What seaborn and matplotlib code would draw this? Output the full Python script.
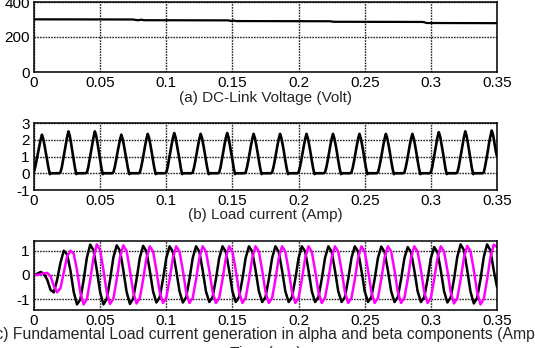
import numpy as np
import pandas as pd
import seaborn as sns
import matplotlib
matplotlib.use("Agg")
import matplotlib.pyplot as plt

# (a) DC-link voltage
vdc_time = [0, 0.075, 0.077, 0.079, 0.081, 0.083, 0.147, 0.149, 0.151, 0.153,
            0.224, 0.226, 0.294, 0.297, 0.35]
vdc_volt = [301, 300, 297, 296, 299, 296, 295, 291, 294, 291,
            290, 287, 286, 280, 279]

# (b) load current, 1 ms samples, one row per 20 ms cycle
load_step = 0.001
load_rows = [
    [0.1, 0.4, 0.8, 1.2, 1.6, 2.0, 2.3, 2.05, 1.65, 1.2, 0.75, 0.3, -0.05, 0, 0, 0, 0, 0, 0, 0],
    [0.05, 0.35, 0.8, 1.25, 1.7, 2.15, 2.5, 2.25, 1.8, 1.3, 0.8, 0.3, -0.05, 0, 0, 0, 0, 0, 0, 0],
    [0.05, 0.35, 0.8, 1.25, 1.7, 2.15, 2.5, 2.25, 1.8, 1.3, 0.8, 0.3, -0.05, 0, 0, 0, 0, 0, 0, 0],
    [0.05, 0.35, 0.75, 1.2, 1.6, 2.0, 2.3, 2.05, 1.65, 1.2, 0.75, 0.3, -0.05, 0, 0, 0, 0, 0, 0, 0],
    [0.05, 0.35, 0.75, 1.2, 1.65, 2.05, 2.35, 2.1, 1.7, 1.25, 0.75, 0.3, -0.05, 0, 0, 0, 0, 0, 0, 0],
    [0.05, 0.35, 0.8, 1.25, 1.7, 2.1, 2.4, 2.15, 1.7, 1.25, 0.8, 0.3, -0.05, 0, 0, 0, 0, 0, 0, 0],
    [0.05, 0.35, 0.75, 1.2, 1.65, 2.05, 2.35, 2.1, 1.7, 1.25, 0.75, 0.3, -0.05, 0, 0, 0, 0, 0, 0, 0],
    [0.05, 0.35, 0.8, 1.25, 1.7, 2.1, 2.4, 2.15, 1.7, 1.25, 0.8, 0.3, -0.05, 0, 0, 0, 0, 0, 0, 0],
    [0.05, 0.35, 0.75, 1.2, 1.65, 2.05, 2.35, 2.1, 1.7, 1.25, 0.75, 0.3, -0.05, 0, 0, 0, 0, 0, 0, 0],
    [0.05, 0.35, 0.75, 1.2, 1.65, 2.05, 2.35, 2.1, 1.7, 1.25, 0.75, 0.3, -0.05, 0, 0, 0, 0, 0, 0, 0],
    [0.05, 0.35, 0.75, 1.2, 1.65, 2.05, 2.35, 2.1, 1.7, 1.25, 0.75, 0.3, -0.05, 0, 0, 0, 0, 0, 0, 0],
    [0.05, 0.35, 0.75, 1.2, 1.65, 2.05, 2.35, 2.1, 1.7, 1.25, 0.75, 0.3, -0.05, 0, 0, 0, 0, 0, 0, 0],
    [0.05, 0.35, 0.75, 1.2, 1.65, 2.05, 2.35, 2.1, 1.7, 1.25, 0.75, 0.3, -0.05, 0, 0, 0, 0, 0, 0, 0],
    [0.05, 0.35, 0.75, 1.2, 1.65, 2.05, 2.35, 2.1, 1.7, 1.25, 0.75, 0.3, -0.05, 0, 0, 0, 0, 0, 0, 0],
    [0.05, 0.35, 0.75, 1.2, 1.65, 2.05, 2.35, 2.1, 1.7, 1.25, 0.75, 0.3, -0.05, 0, 0, 0, 0, 0, 0, 0],
    [0.05, 0.35, 0.8, 1.25, 1.7, 2.15, 2.45, 2.2, 1.75, 1.3, 0.8, 0.3, -0.05, 0, 0, 0, 0, 0, 0, 0],
    [0.05, 0.35, 0.8, 1.25, 1.7, 2.15, 2.5, 2.25, 1.8, 1.3, 0.8, 0.3, -0.05, 0, 0, 0, 0, 0, 0, 0],
    [0.05, 0.4, 0.85, 1.3, 1.8, 2.2, 2.55, 2.3, 1.85, 1.35, 1.0],
]

# (c) alpha (black) and beta (magenta) components, 2.5 ms samples, 8 per cycle
ab_step = 0.0025
alpha_rows = [
    [0.0, 0.05, 0.12, 0.05, -0.2, -0.62, -0.72, -0.2],
    [0.5, 1.0, 0.85, 0.2, -0.7, -1.22, -1.02, -0.22],
    [0.72, 1.25, 1.02, 0.2, -0.72, -1.22, -1.0, -0.2],
    [0.72, 1.22, 1.0, 0.2, -0.7, -1.2, -0.98, -0.19],
    [0.71, 1.2, 0.97, 0.19, -0.68, -1.14, -0.93, -0.18],
    [0.7, 1.18, 0.96, 0.19, -0.68, -1.14, -0.93, -0.18],
    [0.7, 1.18, 0.96, 0.19, -0.68, -1.12, -0.92, -0.18],
    [0.7, 1.18, 0.96, 0.19, -0.68, -1.12, -0.92, -0.18],
    [0.7, 1.18, 0.96, 0.19, -0.68, -1.12, -0.92, -0.18],
    [0.7, 1.18, 0.96, 0.19, -0.68, -1.12, -0.92, -0.18],
    [0.7, 1.18, 0.96, 0.19, -0.68, -1.12, -0.92, -0.18],
    [0.7, 1.18, 0.96, 0.19, -0.68, -1.12, -0.92, -0.18],
    [0.7, 1.18, 0.96, 0.19, -0.68, -1.12, -0.92, -0.18],
    [0.7, 1.17, 0.95, 0.19, -0.68, -1.12, -0.92, -0.18],
    [0.69, 1.15, 0.94, 0.19, -0.68, -1.12, -0.92, -0.18],
    [0.69, 1.15, 0.94, 0.19, -0.68, -1.14, -0.93, -0.18],
    [0.75, 1.26, 1.02, 0.2, -0.7, -1.18, -0.95, -0.19],
    [0.74, 1.26, 1.02, 0.2, -0.5],
]
beta_rows = [
    [0.0, 0.0, 0.02, 0.07, 0.08, -0.05, -0.45, -0.72],
    [-0.55, 0.1, 0.75, 1.0, 0.88, 0.2, -0.72, -1.22],
    [-1.0, -0.2, 0.72, 1.26, 1.02, 0.2, -0.72, -1.2],
    [-0.98, -0.19, 0.72, 1.22, 0.99, 0.19, -0.7, -1.18],
    [-0.96, -0.19, 0.7, 1.18, 0.97, 0.19, -0.7, -1.16],
    [-0.95, -0.19, 0.7, 1.18, 0.96, 0.19, -0.7, -1.16],
    [-0.95, -0.19, 0.7, 1.18, 0.96, 0.19, -0.7, -1.16],
    [-0.95, -0.19, 0.7, 1.18, 0.96, 0.19, -0.7, -1.16],
    [-0.95, -0.19, 0.7, 1.18, 0.96, 0.19, -0.7, -1.16],
    [-0.95, -0.19, 0.7, 1.18, 0.96, 0.19, -0.7, -1.16],
    [-0.95, -0.19, 0.7, 1.18, 0.96, 0.19, -0.7, -1.16],
    [-0.95, -0.19, 0.7, 1.18, 0.96, 0.19, -0.7, -1.16],
    [-0.95, -0.19, 0.7, 1.18, 0.96, 0.19, -0.7, -1.16],
    [-0.95, -0.19, 0.7, 1.18, 0.96, 0.19, -0.7, -1.16],
    [-0.95, -0.19, 0.7, 1.18, 0.96, 0.19, -0.7, -1.16],
    [-0.95, -0.19, 0.7, 1.18, 0.96, 0.19, -0.72, -1.18],
    [-0.96, -0.19, 0.7, 1.2, 0.97, 0.19, -0.72, -1.22],
    [-1.0, -0.2, 0.72, 1.25, 1.15],
]

x_ticks = [0, 0.05, 0.1, 0.15, 0.2, 0.25, 0.3, 0.35]
x_ticklabels = ["0", "0.05", "0.1", "0.15", "0.2", "0.25", "0.3", "0.35"]

captions = [
    "(a) DC-Link Voltage (Volt)",
    "(b) Load current (Amp)",
    "(c) Fundamental Load current generation in alpha and beta components (Amp)",
]

sns.set_style("white")
plt.rcParams["font.family"] = ["Liberation Sans", "DejaVu Sans"]
plt.rcParams["axes.unicode_minus"] = False

load = np.concatenate([np.array(r, dtype=float) for r in load_rows])
alpha = np.concatenate([np.array(r, dtype=float) for r in alpha_rows])
beta = np.concatenate([np.array(r, dtype=float) for r in beta_rows])

df_a = pd.DataFrame({"t": vdc_time, "v": vdc_volt})
df_b = pd.DataFrame({"t": np.arange(len(load)) * load_step, "i": load})
df_c = pd.DataFrame({"t": np.arange(len(alpha)) * ab_step, "alpha": alpha, "beta": beta})

W, H = 535, 348
fig = plt.figure(figsize=(W / 100, H / 100), dpi=100)

def px_axes(left, top, right, bottom):
    return fig.add_axes([left / W, 1 - bottom / H, (right - left) / W, (bottom - top) / H])

ax_a = px_axes(34, 2, 497, 72)
ax_b = px_axes(34, 123, 497, 190)
ax_c = px_axes(34, 241, 497, 310)

sns.lineplot(data=df_a, x="t", y="v", ax=ax_a, color="black", lw=1.6, estimator=None)
sns.lineplot(data=df_b, x="t", y="i", ax=ax_b, color="black", lw=1.9, estimator=None)
sns.lineplot(data=df_c, x="t", y="alpha", ax=ax_c, color="black", lw=1.8, estimator=None)
sns.lineplot(data=df_c, x="t", y="beta", ax=ax_c, color="#ff00ff", lw=1.8, estimator=None)

ax_a.set_ylim(0, 400)
ax_a.set_yticks([0, 200, 400])
ax_b.set_ylim(-1, 3)
ax_b.set_yticks([-1, 0, 1, 2, 3])
ax_c.set_ylim(-1.45, 1.4)
ax_c.set_yticks([-1, 0, 1])

for ax in (ax_a, ax_b, ax_c):
    ax.set_xlim(0, 0.35)
    ax.set_xticks(x_ticks)
    ax.set_xticklabels(x_ticklabels)
    ax.set_xlabel("")
    ax.set_ylabel("")
    ax.grid(True, color="0.15", linestyle=(0, (1.2, 0.8)), linewidth=1.0)
    ax.tick_params(length=0, labelsize=11, pad=3, colors="black")
    for s in ax.spines.values():
        s.set_visible(True)
        s.set_color("black")
        s.set_linewidth(1.1)

cx = (34 + 497) / 2 / W
fig.text(cx, 1 - 98 / H, captions[0], ha="center", va="center", fontsize=11)
fig.text(cx, 1 - 215 / H, captions[1], ha="center", va="center", fontsize=11)
fig.text(cx, 1 - 335 / H, captions[2], ha="center", va="center", fontsize=11.3)
fig.text(cx, 1 - 353 / H, "Time (sec)", ha="center", va="center", fontsize=11)

fig.savefig("out.png", dpi=100)
